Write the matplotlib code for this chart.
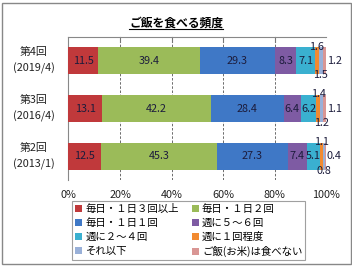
import numpy as np
import matplotlib.pyplot as plt
from matplotlib.patches import Rectangle
from matplotlib.lines import Line2D

plt.rcParams['font.family'] = ['Noto Sans CJK JP', 'DejaVu Sans']

# rounds, bottom to top
rounds = ['第2回\n(2013/1)', '第3回\n(2016/4)', '第4回\n(2019/4)']
series = ['毎日・１日３回以上', '毎日・１日２回', '毎日・１日１回', '週に５～６回',
          '週に２～４回', '週に１回程度', 'それ以下', 'ご飯(お米)は食べない']
values = [
    [12.5, 13.1, 11.5],   # 3回以上
    [45.3, 42.2, 39.4],   # 2回
    [27.3, 28.4, 29.3],   # 1回
    [7.4, 6.4, 8.3],      # 週5-6
    [5.1, 6.2, 7.1],      # 週2-4
    [1.1, 1.4, 1.6],      # 週1
    [0.8, 1.2, 1.5],      # それ以下
    [0.4, 1.1, 1.2],      # 食べない
]
colors = ['#C0393B', '#9BBB59', '#3F78C6', '#7E5BA3', '#3AB0D0', '#F28A30', '#99B0D8', '#D99694']
txt_col = '#1c1c3c'

fig = plt.figure(figsize=(3.52, 2.66), dpi=100)
ax = fig.add_axes([0.1946, 0.323, 0.7316, 0.538])

y = np.arange(len(rounds))
left = np.zeros(len(rounds))
h = 0.57
fs = 7.8
for i, (name, vals) in enumerate(zip(series, values)):
    vals = np.array(vals)
    ax.barh(y, vals, left=left, height=h, color=colors[i], label=name, zorder=3)
    for j, v in enumerate(vals):
        cx = left[j] + v / 2
        if i == 5:
            ax.text(cx, y[j] + 0.30, f'{v:.1f}', ha='center', va='center', fontsize=fs, color=txt_col, zorder=4)
        elif i == 6:
            ax.text(cx, y[j] - 0.30, f'{v:.1f}', ha='center', va='center', fontsize=fs, color=txt_col, zorder=4)
        elif i == 7:
            ax.text(left[j] + v + 0.3, y[j], f'{v:.1f}', ha='left', va='center', fontsize=fs, color=txt_col, zorder=4)
        else:
            ax.text(cx, y[j], f'{v:.1f}', ha='center', va='center', fontsize=fs, color=txt_col, zorder=4)
    left += vals

ax.set_xlim(0, 100)
ax.set_ylim(-0.5, 2.5)
ax.set_xticks([0, 20, 40, 60, 80, 100])
ax.set_xticklabels(['0%', '20%', '40%', '60%', '80%', '100%'], fontsize=fs, color='#222222')
ax.tick_params(axis='x', length=0, pad=7)
ax.set_yticks([])
for gx in [20, 40, 60, 80]:
    ax.axvline(gx, color='#555555', lw=0.6, ls=(0, (3, 2)), zorder=1)
    ax.plot([gx, gx], [2.5, 2.4], color='#777777', lw=0.8, zorder=2, clip_on=False)
for s in ['right', 'bottom']:
    ax.spines[s].set_visible(False)
ax.spines['top'].set_color('#888888')
ax.spines['left'].set_color('#888888')

for j, r in enumerate(rounds):
    ax.text(-0.135, y[j], r, transform=ax.get_yaxis_transform(), ha='center', va='center',
            fontsize=fs, linespacing=1.65, color='#222222')

# title with underline
t = fig.text(0.5, 0.912, 'ご飯を食べる頻度', ha='center', va='center', fontsize=8.5, fontweight='bold')
fig.canvas.draw()
bb = t.get_window_extent().transformed(fig.transFigure.inverted())
fig.add_artist(Line2D([bb.x0, bb.x1], [bb.y0 + 0.002, bb.y0 + 0.002], color='black', lw=0.8, transform=fig.transFigure))

# legend filled row by row
handles, labels = ax.get_legend_handles_labels()
order = [0, 2, 4, 6, 1, 3, 5, 7]
leg = fig.legend([handles[k] for k in order], [labels[k] for k in order],
                 loc='upper left', bbox_to_anchor=(72 / 352, 1 - 201 / 266), ncol=2, fontsize=7.5,
                 frameon=True, fancybox=False, edgecolor='#888888', handlelength=0.7, handleheight=0.7,
                 handletextpad=0.3, columnspacing=1.2, labelspacing=0.38, borderpad=0.3, borderaxespad=0)
leg.get_frame().set_linewidth(0.8)

fig.add_artist(Rectangle((2 / 352, 2 / 266), 1 - 3 / 352, 1 - 5 / 266, transform=fig.transFigure,
                         fill=False, edgecolor='#888888', lw=1.0))

fig.savefig('out.png', dpi=100)
